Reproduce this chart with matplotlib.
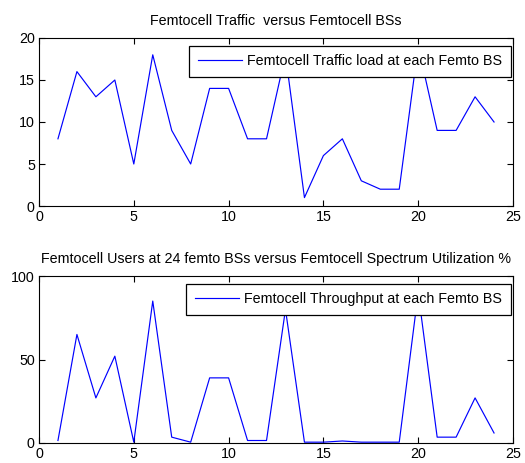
import matplotlib
matplotlib.use("Agg")
import matplotlib.pyplot as plt

plt.rcParams['font.family'] = ['Liberation Sans', 'DejaVu Sans']

bs = list(range(1, 25))
traffic = [8, 16, 13, 15, 5, 18, 9, 5, 14, 14, 8, 8, 18, 1, 6, 8, 3, 2, 2, 19, 9, 9, 13, 10]
throughput = [1.5, 65, 27, 52, 0.5, 85, 3.5, 0.5, 39, 39, 1.5, 1.5, 80, 0.5, 0.5, 1.2,
              0.5, 0.5, 0.5, 90, 3.5, 3.5, 27, 6]

title1 = "Femtocell Traffic  versus Femtocell BSs"
title2 = "Femtocell Users at 24 femto BSs versus Femtocell Spectrum Utilization %"
label1 = "Femtocell Traffic load at each Femto BS"
label2 = "Femtocell Throughput at each Femto BS"
xticks = [0, 5, 10, 15, 20, 25]
yticks1 = [0, 5, 10, 15, 20]
yticks2 = [0, 50, 100]

W, H = 525, 463
fig = plt.figure(figsize=(W / 100, H / 100), dpi=100)

def box(l, r, t, b):
    return [l / W, 1 - b / H, (r - l) / W, (b - t) / H]

ax1 = fig.add_axes(box(39, 513, 38, 206))
ax2 = fig.add_axes(box(39, 513, 276, 443))

for ax, y, lab, title, yt in [(ax1, traffic, label1, title1, yticks1),
                              (ax2, throughput, label2, title2, yticks2)]:
    ax.plot(bs, y, color='#0000ff', lw=0.85, label=lab)
    ax.set_xlim(0, 25)
    ax.set_ylim(yt[0], yt[-1])
    ax.set_xticks(xticks)
    ax.set_yticks(yt)
    ax.tick_params(direction='in', top=True, right=True, labelsize=10.3, length=4, width=0.8, pad=3)
    for s in ax.spines.values():
        s.set_linewidth(0.8)
    ax.set_title(title, fontsize=10.3, pad=9)
    leg = ax.legend(loc='upper right', bbox_to_anchor=(0.995, 0.955), fontsize=10.3,
                    fancybox=False, framealpha=1, edgecolor='black', handlelength=3.1,
                    borderaxespad=0, borderpad=0.6, handletextpad=0.35)
    leg.get_frame().set_linewidth(0.9)

fig.savefig("out.png", dpi=100)
